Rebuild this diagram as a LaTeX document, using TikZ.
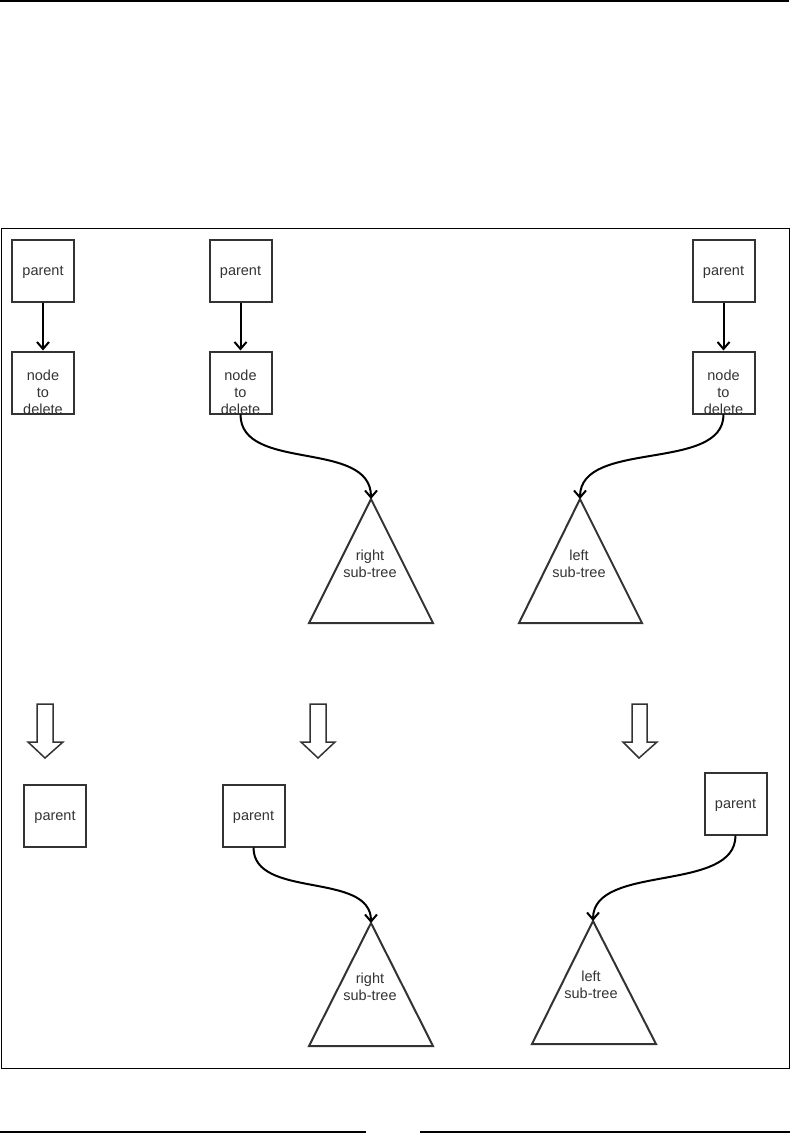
\documentclass[tikz,border=0pt]{standalone}
\usepackage{fontspec}
\setmainfont{Liberation Sans}
\usetikzlibrary{arrows.meta}
\definecolor{edgegray}{HTML}{333333}
\tikzset{
  box/.style={draw=edgegray, line width=2pt, minimum width=62pt, minimum height=62pt, inner sep=0pt, text depth=0pt, text=edgegray, font=\fontsize{14.5}{17}\selectfont},
  lbl/.style={text=edgegray, align=center, inner sep=0pt, font=\fontsize{14.5}{17}\selectfont},
  tri/.style={draw=edgegray, line width=2pt, line join=miter},
  conn/.style={draw=black, line width=2pt, -{Straight Barb[length=7pt,width=12pt]}},
  blockarrow/.style={draw=edgegray, line width=1.5pt, fill=white, line join=miter}
}
\begin{document}
\begin{tikzpicture}[x=1pt,y=-1pt]
\useasboundingbox (0,0) rectangle (793,1142);
% page rules
\draw[line width=1.5pt] (0,1) -- (789,1);
\draw[line width=1.5pt] (0,1132) -- (366,1132);
\draw[line width=1.5pt] (420,1132) -- (790,1132);
% frame
\draw[line width=1pt] (1,228) rectangle (789,1068);

% ---- top row ----
\node[box] (pA) at (43,270.5) {parent};
\node[box] (nA) at (43,382.5) {};
\node[lbl] (tA) at (43,392.5) {node\\to\\delete};
\draw[conn] (pA) -- (nA);

\node[box] (pB) at (240.5,270.5) {parent};
\node[box] (nB) at (240.5,382.5) {};
\node[lbl] (tB) at (240.5,392.5) {node\\to\\delete};
\draw[conn] (pB) -- (nB);

\node[box] (pC) at (723.5,271) {parent};
\node[box] (nC) at (723.5,382.5) {};
\node[lbl] (tC) at (723.5,392.5) {node\\to\\delete};
\draw[conn] (pC) -- (nC);

% top triangles
\coordinate (rt1) at (371,499);
\draw[tri] (rt1) -- (433,623) -- (309,623) -- cycle;
\node[lbl] (rt1l) at (370,564) {right\\sub-tree};
\coordinate (lt1) at (580,499);
\draw[tri] (lt1) -- (642,623) -- (519,623) -- cycle;
\node[lbl] (lt1l) at (579,564) {left\\sub-tree};

\draw[conn] (nB.south) .. controls +(0,58) and +(0,-60) .. (rt1);
\draw[conn] (nC.south) .. controls +(0,58) and +(0,-60) .. (lt1);

% block arrows
\draw[blockarrow] (37,704) -- (53,704) -- (53,742) -- (63,742) -- (45,758) -- (28,742) -- (37,742) -- cycle;
\draw[blockarrow] (310,704) -- (326,704) -- (326,742) -- (335,742) -- (318,758) -- (301,742) -- (310,742) -- cycle;
\draw[blockarrow] (632,704) -- (647,704) -- (647,742) -- (657,742) -- (639,758) -- (623,742) -- (632,742) -- cycle;

% ---- bottom row ----
\node[box] (pD) at (55,815.5) {parent};
\node[box] (pE) at (253.5,815.5) {parent};
\node[box] (pF) at (735.5,803.5) {parent};

\coordinate (rt2) at (371,923);
\draw[tri] (rt2) -- (433,1046) -- (309,1046) -- cycle;
\node[lbl] (rt2l) at (370,987) {right\\sub-tree};
\coordinate (lt2) at (593,921);
\draw[tri] (lt2) -- (656,1044) -- (532,1044) -- cycle;
\node[lbl] (lt2l) at (591,985) {left\\sub-tree};

\draw[conn] (pE.south) .. controls +(0,52) and +(0,-52) .. (rt2);
\draw[conn] (pF.south) .. controls +(0,58) and +(0,-58) .. (lt2);
\end{tikzpicture}
\end{document}
